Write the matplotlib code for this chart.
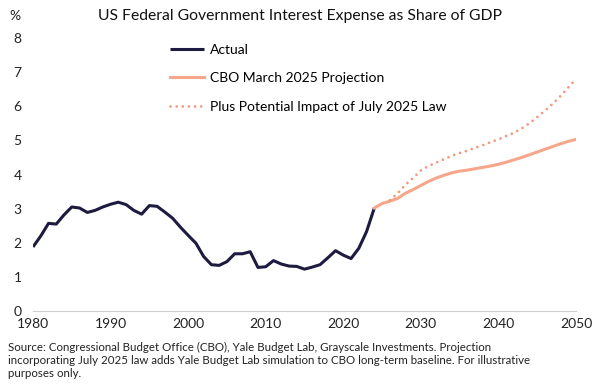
import matplotlib.pyplot as plt

# Actual net interest, % of GDP
actual_years = list(range(1980, 2025))
actual = [1.88, 2.2, 2.57, 2.55, 2.82, 3.05, 3.02, 2.89, 2.95, 3.05,
          3.13, 3.19, 3.12, 2.95, 2.84, 3.09, 3.07, 2.9, 2.72, 2.46,
          2.22, 1.99, 1.6, 1.36, 1.34, 1.45, 1.68, 1.68, 1.74, 1.28,
          1.3, 1.48, 1.38, 1.32, 1.31, 1.23, 1.29, 1.36, 1.56, 1.77,
          1.64, 1.54, 1.84, 2.33, 3.02]

# CBO March 2025 projection
cbo_years = list(range(2024, 2051))
cbo = [3.02, 3.15, 3.22, 3.3, 3.45, 3.56, 3.68, 3.8, 3.9, 3.98,
       4.05, 4.1, 4.13, 4.17, 4.21, 4.25, 4.3, 4.36, 4.43, 4.5,
       4.58, 4.66, 4.74, 4.82, 4.9, 4.97, 5.03]

# Plus potential impact of July 2025 law
law_years = list(range(2026, 2051))
law = [3.25, 3.45, 3.7, 3.9, 4.12, 4.25, 4.35, 4.45, 4.55, 4.63,
       4.7, 4.78, 4.86, 4.95, 5.03, 5.13, 5.22, 5.35, 5.5, 5.68,
       5.87, 6.07, 6.3, 6.55, 6.8]

navy = '#1d1b3f'
salmon = '#f6a68b'

plt.rcParams['font.family'] = ['Lato', 'DejaVu Sans']

fig = plt.figure(figsize=(6, 3.87), dpi=100)
ax = fig.add_axes([0.055, 0.196, 0.905, 0.706])

ax.plot(actual_years, actual, color=navy, lw=2.2, label='Actual', solid_capstyle='butt')
ax.plot(cbo_years, cbo, color=salmon, lw=2.2, label='CBO March 2025 Projection')
ax.plot(law_years, law, color='#f29a80', lw=2.0, ls=(0, (0.01, 2.2)),
        dash_capstyle='round', label='Plus Potential Impact of July 2025 Law')

ax.set_xlim(1980, 2050)
ax.set_ylim(0, 8)
ax.set_xticks(range(1980, 2051, 10))
ax.set_yticks(range(0, 9))
ax.tick_params(length=0, labelsize=10, colors='#222222')
ax.tick_params(axis='y', pad=14)
for lbl in ax.get_yticklabels():
    lbl.set_horizontalalignment('left')
ax.tick_params(axis='x', pad=5)
for s in ['top', 'right', 'left']:
    ax.spines[s].set_visible(False)
ax.spines['bottom'].set_color('#d0d0d0')
ax.spines['bottom'].set_linewidth(0.8)

ax.legend(loc='upper left', bbox_to_anchor=(0.23, 1.025), frameon=False,
          fontsize=10, handlelength=2.4, handletextpad=0.45, labelspacing=1.2)

fig.text(0.015, 0.958, '%', fontsize=10, color='#222222', va='center')
fig.text(0.5, 0.958, 'US Federal Government Interest Expense as Share of GDP',
         fontsize=11.3, ha='center', va='center', color='#111111')

fig.text(0.013, 0.02,
         'Source: Congressional Budget Office (CBO), Yale Budget Lab, Grayscale Investments. Projection\n'
         'incorporating July 2025 law adds Yale Budget Lab simulation to CBO long-term baseline. For illustrative\n'
         'purposes only.',
         fontsize=8.3, va='bottom', ha='left', color='#222222', linespacing=1.25)

fig.savefig('out.png', dpi=100)
